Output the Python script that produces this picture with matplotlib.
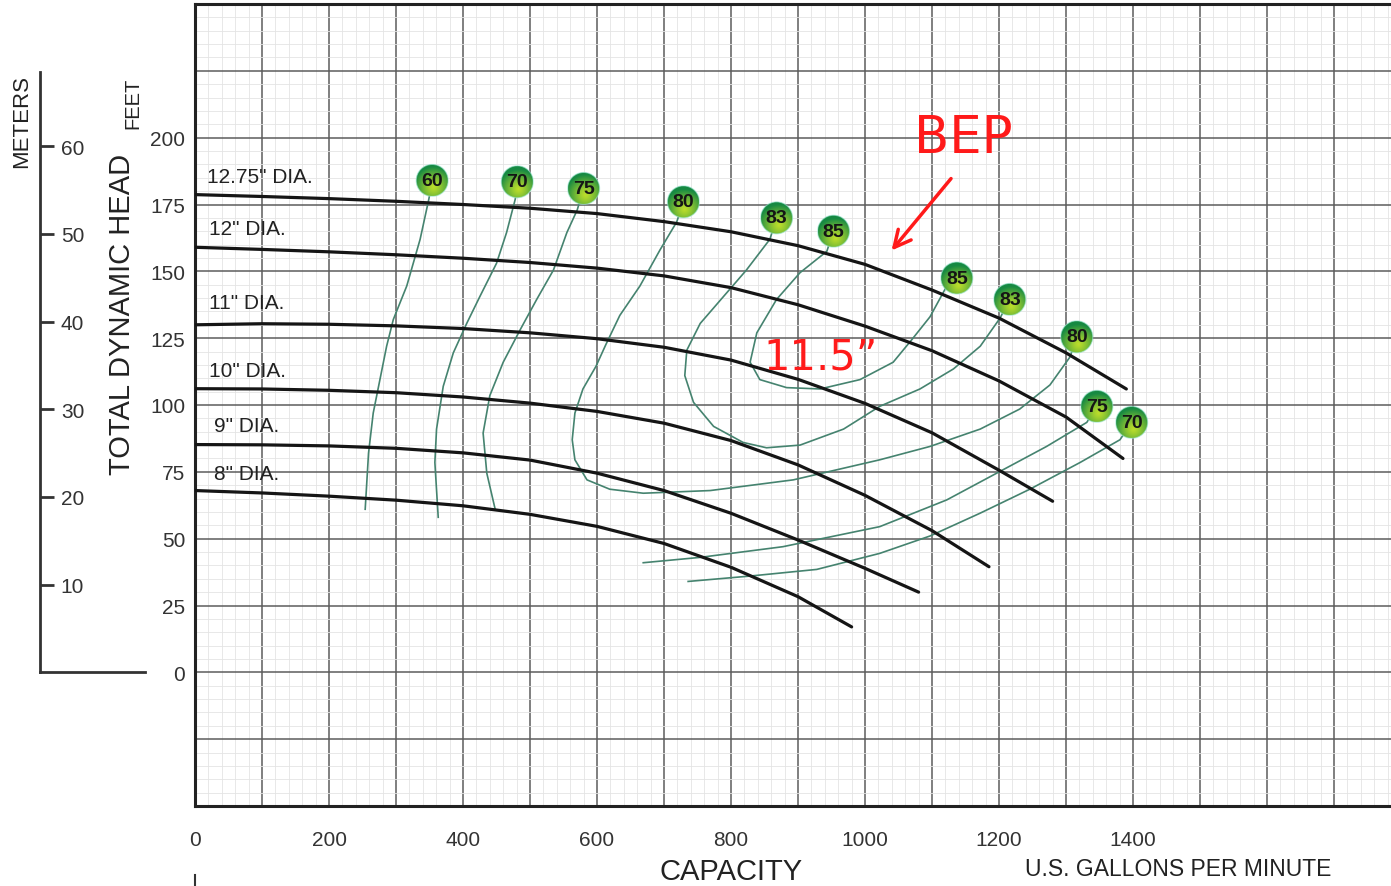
import numpy as np
import matplotlib
matplotlib.use('Agg')
import matplotlib.pyplot as plt
from matplotlib.patches import Ellipse
from matplotlib.lines import Line2D
from matplotlib.transforms import blended_transform_factory

plt.rcParams['font.family'] = ['Liberation Sans', 'DejaVu Sans']

# head-capacity curves per impeller diameter (gpm, ft)
Q_1275 = [0, 100, 200, 300, 400, 500, 600, 700, 800, 900, 1000, 1100, 1200, 1300, 1390]
H_1275 = [178.7, 178, 177.2, 176.2, 175, 173.6, 171.6, 168.6, 164.8, 159.6, 152.6, 143, 132.5, 119.5, 106]
Q_12 = [0, 100, 200, 300, 400, 500, 600, 700, 800, 900, 1000, 1100, 1200, 1300, 1385]
H_12 = [159, 158.2, 157.3, 156.2, 154.9, 153.3, 151.2, 148.3, 143.9, 137.5, 129.5, 120.3, 109, 95.5, 80]
Q_11 = [0, 100, 200, 300, 400, 500, 600, 700, 800, 900, 1000, 1100, 1200, 1280]
H_11 = [130, 130.4, 130.2, 129.6, 128.6, 127, 124.8, 121.6, 116.8, 109.6, 100.6, 89.6, 75.6, 64]
Q_10 = [0, 100, 200, 300, 400, 500, 600, 700, 800, 900, 1000, 1100, 1185]
H_10 = [106.1, 106, 105.5, 104.6, 103, 100.7, 97.6, 93.2, 86.7, 77.6, 66.2, 53, 39.5]
Q_9 = [0, 100, 200, 300, 400, 500, 600, 700, 800, 900, 1000, 1080]
H_9 = [85.2, 85.1, 84.7, 83.8, 82.1, 79.4, 74.5, 68, 59.5, 49.5, 38.9, 30]
Q_8 = [0, 100, 200, 300, 400, 500, 600, 700, 800, 900, 980]
H_8 = [68, 67.1, 65.9, 64.4, 62.3, 59.1, 54.6, 48.2, 39.3, 28.3, 17]

DIA_LABELS = ['12.75" DIA.', '12" DIA.', '11" DIA.', '10" DIA.', '9" DIA.', '8" DIA.']

# efficiency contours (%), first point sits under the badge
E60_Q = [354, 349, 336, 316, 296, 286, 276, 266, 259, 254]
E60_H = [184, 177, 162, 144.5, 132, 122, 109.5, 97, 82, 61]
E70_Q = [481, 478, 465, 450, 425, 405.5, 385.5, 370.5, 360.5, 358, 363]
E70_H = [183.5, 177, 164.5, 153, 140.5, 130.5, 119.5, 107, 91, 78.5, 58]
E75_Q = [580, 570.5, 555, 535, 510, 485, 460, 440, 430, 435.5, 448]
E75_H = [181, 173, 164.5, 150.5, 139.5, 128, 116, 103.5, 89.5, 74.5, 61]
E80_Q = [729, 719, 694, 664, 634, 613, 598.5, 579, 567, 563, 567, 585, 619, 669,
         769, 893, 1022, 1097, 1172, 1231, 1276, 1306, 1316]
E80_H = [176, 168.5, 158, 144.5, 133.5, 122.5, 114.5, 106, 97, 87, 79.5, 72, 68.5, 67,
         68, 72, 79.5, 84.5, 91, 98.5, 107.5, 118, 125.5]
E83_Q = [868, 858, 823, 788.5, 754, 734, 731, 744, 774, 818, 853, 903, 968, 1022,
         1082, 1132, 1172, 1201.5, 1216]
E83_H = [170, 162, 150.5, 140.5, 130.5, 120.5, 111, 101, 92, 86, 84, 85, 91, 99.5,
         106, 113.5, 122, 132.5, 139.5]
E85_Q = [953, 943, 903, 868, 838.5, 828.5, 843, 883, 933, 992.5, 1042, 1070, 1097, 1122, 1137]
E85_H = [165, 157.5, 149.5, 139.5, 127, 116, 109.5, 106.5, 106, 109.5, 116, 124.5, 133, 144.5, 147.5]
E75R_Q = [1346, 1331, 1271, 1196.5, 1122, 1022, 877.5, 754, 669]
E75R_H = [99.5, 93.5, 84.5, 74.5, 64.5, 54.5, 47, 43, 41]
E70R_Q = [1398, 1380.5, 1321, 1246, 1171.5, 1097, 1022, 928, 828, 736]
E70R_H = [93.5, 87, 78.5, 68.5, 59.5, 51, 44.5, 38.5, 36, 34]

FT_PER_M = 3.2808

W, H = 1391, 887
fig = plt.figure(figsize=(W / 100, H / 100), dpi=100)
ax = fig.add_axes([195 / W, 80 / H, 1196 / W, 802 / H])
ax.set_xlim(0, 1785)
ax.set_ylim(-50, 250)
ax.set_autoscale_on(False)

# graph-paper grid
xmaj = np.arange(0, 1800, 100)
ymaj = np.arange(-50, 251, 25)
ax.set_xticks(xmaj)
ax.set_xticklabels([str(v) if (v % 200 == 0 and v <= 1400) else '' for v in xmaj])
ax.set_yticks(ymaj)
ax.set_yticklabels([str(v) if 0 <= v <= 200 else '' for v in ymaj])
ax.set_xticks(np.arange(0, 1785, 20), minor=True)
ax.set_yticks(np.arange(-50, 251, 5), minor=True)
ax.grid(which='major', color='#5c5c5c', lw=1.1)
ax.grid(which='minor', color='#e4e4e4', lw=0.6)
ax.set_axisbelow(True)
ax.tick_params(which='both', length=0)
ax.tick_params(axis='x', pad=17, labelsize=15, labelcolor='#333333')
ax.tick_params(axis='y', pad=7, labelsize=15, labelcolor='#333333')
for side in ['top', 'left', 'bottom']:
    ax.spines[side].set_color('#222222')
    ax.spines[side].set_linewidth(2.2)
ax.spines['right'].set_visible(False)

# diameter curves
curves = [(Q_1275, H_1275), (Q_12, H_12), (Q_11, H_11), (Q_10, H_10), (Q_9, H_9), (Q_8, H_8)]
for q, h in curves:
    ax.plot(q, h, color='#151515', lw=2.3, solid_capstyle='round', solid_joinstyle='round', zorder=4)

dia_pos = [(18, 185.5), (21, 166), (21, 138.5), (21, 113), (28, 92.5), (28, 74.5)]
for txt, (x, y) in zip(DIA_LABELS, dia_pos):
    ax.text(x, y, txt, fontsize=15, color='#222222', ha='left', va='center', zorder=5)

# efficiency contours with badges at their ends
eff = [
    ('60', E60_Q, E60_H, False),
    ('70', E70_Q, E70_H, False),
    ('75', E75_Q, E75_H, False),
    ('80', E80_Q, E80_H, True),
    ('83', E83_Q, E83_H, True),
    ('85', E85_Q, E85_H, True),
    ('75', E75R_Q, E75R_H, False),
    ('70', E70R_Q, E70R_H, False),
]
for lbl, q, h, both in eff:
    ax.plot(q, h, color='#45836f', lw=1.2, solid_joinstyle='round', zorder=3)


def badge_rgb(n=64):
    v, u = np.mgrid[-1:1:n * 1j, -1:1:n * 1j]
    d = np.hypot(u - 0.1, v - 0.45)
    t = np.clip(d / 1.25, 0, 1) ** 1.2
    dark = np.array([0.09, 0.54, 0.26])
    light = np.array([0.74, 0.87, 0.17])
    return light * (1 - t)[..., None] + dark * t[..., None]


GRAD = badge_rgb()
inv = ax.transData.inverted()


def badge(q, h, lbl, r=16):
    cx, cy = ax.transData.transform((q, h))
    x0, y0 = inv.transform((cx - r, cy - r))
    x1, y1 = inv.transform((cx + r, cy + r))
    im = ax.imshow(GRAD, extent=(x0, x1, y0, y1), origin='upper', aspect='auto',
                   interpolation='bilinear', zorder=6)
    clip = Ellipse((q, h), x1 - x0, y1 - y0, transform=ax.transData)
    im.set_clip_path(clip)
    ax.add_patch(Ellipse((q, h), x1 - x0, y1 - y0, facecolor='none',
                         edgecolor='#9be6d2', lw=0.8, alpha=0.6, zorder=6))
    ax.text(q, h, lbl, fontsize=14, fontweight='bold', color='#151515',
            ha='center', va='center', zorder=7)


for lbl, q, h, both in eff:
    badge(q[0], h[0], lbl)
    if both:
        badge(q[-1], h[-1], lbl)

ax.set_xlim(0, 1785)
ax.set_ylim(-50, 250)

# hand-drawn style notes
ax.text(1146, 200, 'BEP', color='#ff1a1a', fontsize=37, family='DejaVu Sans',
        ha='center', va='center', zorder=8)
ax.text(933, 118, '11.5\u201d', color='#ff1a1a', fontsize=30, family='DejaVu Sans',
        ha='center', va='center', zorder=8)
ax.annotate('', xy=(1037, 157), xytext=(1131, 185.5),
            arrowprops=dict(arrowstyle='->', color='#ff1a1a', lw=2.5, mutation_scale=30),
            zorder=8)

# metres scale on the far left
sec = ax.secondary_yaxis(-0.1296, functions=(lambda f: f / FT_PER_M, lambda m: m * FT_PER_M))
sec.set_alignment('right')
sec.set_yticks([10, 20, 30, 40, 50, 60])
sec.tick_params(axis='y', length=10, width=2, pad=5, labelsize=15,
                color='#333333', labelcolor='#333333')
sec.spines['right'].set_bounds(0, 68.4)
sec.spines['right'].set_linewidth(2)
sec.spines['right'].set_color('#333333')
btrans = blended_transform_factory(ax.transAxes, ax.transData)
ax.plot([-0.1296, -0.0418], [0, 0], transform=btrans, color='#333333', lw=2, clip_on=False)

fig.add_artist(Line2D([195 / W, 195 / W], [0, 11 / H], color='#333333', lw=1.5))

# axis titles
fig.text(122 / W, 1 - 314 / H, 'TOTAL DYNAMIC HEAD', rotation=90, fontsize=21,
         color='#222222', ha='center', va='center')
fig.text(133 / W, 1 - 103 / H, 'FEET', rotation=90, fontsize=14.5,
         color='#222222', ha='center', va='center')
fig.text(22 / W, 1 - 121 / H, 'METERS', rotation=90, fontsize=16,
         color='#222222', ha='center', va='center')
fig.text(731 / W, 1 - 872 / H, 'CAPACITY', fontsize=21, color='#222222',
         ha='center', va='center')
fig.text(1178 / W, 1 - 870 / H, 'U.S. GALLONS PER MINUTE', fontsize=16.5,
         color='#222222', ha='center', va='center')

fig.savefig('out.png', dpi=100)
